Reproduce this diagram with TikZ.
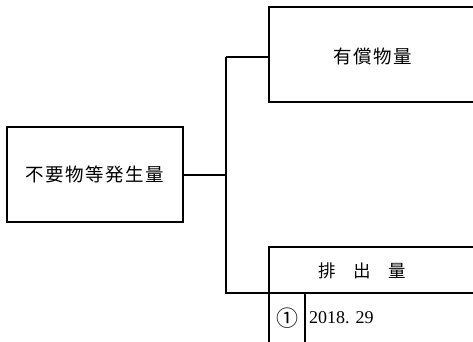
\documentclass[tikz,border=0pt]{standalone}
\usepackage{fontspec}
\setmainfont{Liberation Serif}
\newfontfamily\jpwide[LetterSpace=8]{Noto Sans CJK JP}
\newfontfamily\jpplain{Noto Sans CJK JP}
\begin{document}
\begin{tikzpicture}[x=1pt,y=-1pt,line width=2pt,
  jptext/.style={font=\fontsize{18.5}{20}\selectfont\jpwide,inner sep=0pt},
  jphead/.style={font=\fontsize{17.5}{20}\selectfont\jpplain,inner sep=0pt},
  numtext/.style={font=\fontsize{18}{20}\selectfont,inner sep=0pt}]
\useasboundingbox (0,0) rectangle (473,342);

% source box
\node[draw,jptext,minimum width=176pt,minimum height=95pt] (src) at (95,174.5) {不要物等発生量};

% trunk
\coordinate (trunk top) at (226,57);
\coordinate (trunk bot) at (226,293);
\coordinate (row end) at (473,293);
\draw (src.east) -- (src.east -| trunk top);
\draw (trunk top) -- (trunk bot) -- (row end);

% sold amount (open on the right)
\coordinate (sale nw) at (269,7);
\coordinate (sale sw) at (269,102);
\draw (473,7) -- (sale nw) -- (sale sw) -- (473,102);
\node[jptext] (sale) at (373,56) {有償物量};
\draw (trunk top) -- (trunk top -| sale nw);

% discharge table
\coordinate (out nw) at (269,247);
\draw (473,247) -- (out nw) -- (269,342);
\draw (305,293) -- (305,342);
\node[jphead] (outhead) at (362,271) {排　出　量};
\node[jphead,font=\fontsize{22}{22}\selectfont\jpplain] (outno) at (287,318) {①};
\node[numtext,anchor=west] (outval) at (308,318) {2018. 29};
\end{tikzpicture}
\end{document}
